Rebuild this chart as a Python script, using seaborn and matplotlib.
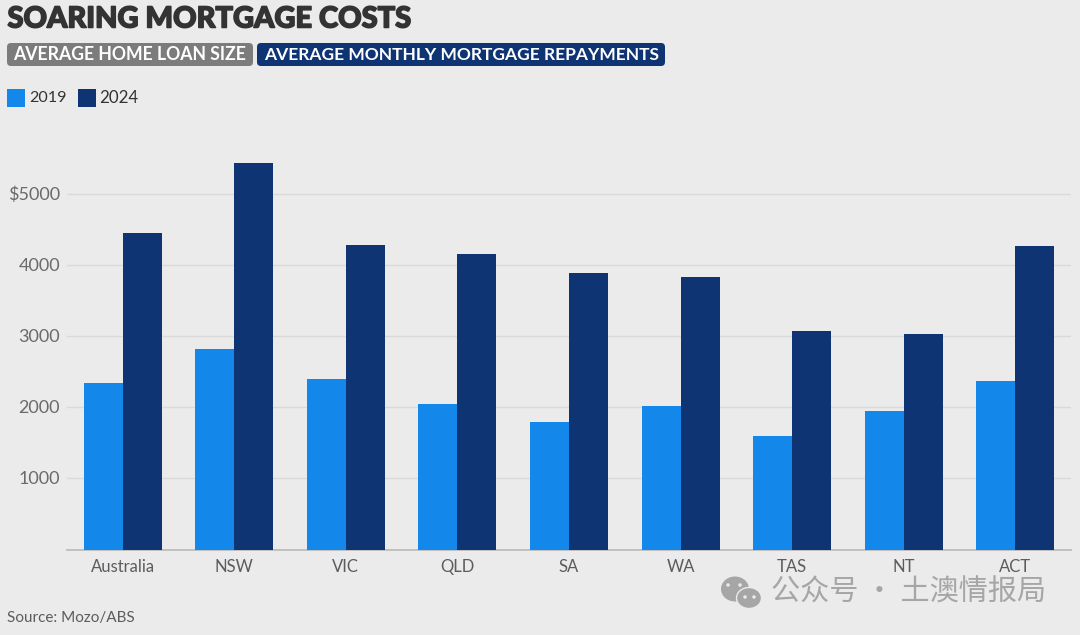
import pandas as pd
import numpy as np
import matplotlib.pyplot as plt
import seaborn as sns
import matplotlib.patheffects as pe
from matplotlib.patches import FancyBboxPatch, Rectangle, Ellipse

regions = ['Australia', 'NSW', 'VIC', 'QLD', 'SA', 'WA', 'TAS', 'NT', 'ACT']
repay_2019 = [2335, 2815, 2395, 2040, 1790, 2025, 1590, 1945, 2365]
repay_2024 = [4445, 5430, 4278, 4150, 3882, 3826, 3078, 3025, 4262]
y_ticks = [1000, 2000, 3000, 4000, 5000]
y_labels = ['1000', '2000', '3000', '4000', '$5000']

BG = '#ebebeb'
LIGHT = '#1488ea'
DARK = '#0e3474'
W, H = 1080, 635

df = pd.DataFrame({
    'Region': regions * 2,
    'Repayment': repay_2019 + repay_2024,
    'Year': ['2019'] * 9 + ['2024'] * 9,
})

sns.set_theme(style='white')
plt.rcParams['font.family'] = ['Lato', 'Noto Sans CJK SC', 'DejaVu Sans']

fig = plt.figure(figsize=(W / 100, H / 100), dpi=100, facecolor=BG)
ax = fig.add_axes([67 / W, 1 - 549.5 / H, 1004 / W, 400 / H], facecolor=BG)

sns.barplot(data=df, x='Region', y='Repayment', hue='Year',
            palette={'2019': LIGHT, '2024': DARK}, width=0.7, gap=0,
            saturation=1, legend=False, linewidth=0, ax=ax, zorder=3)

ax.set_xlim(-0.5, 8.5)
ax.set_ylim(0, 400 / 0.0711)
ax.set_xlabel('')
ax.set_ylabel('')
ax.set_yticks(y_ticks)
ax.set_yticklabels([])
ax.grid(axis='y', color='#dadada', linewidth=1, zorder=0)
ax.set_axisbelow(True)
sns.despine(ax=ax, left=True)
ax.spines['bottom'].set_color('#bdbdbd')
ax.spines['bottom'].set_linewidth(1.3)
ax.tick_params(axis='x', length=0, pad=6.5, labelsize=12, labelcolor='#5c5c5c')
ax.tick_params(axis='y', length=0)

# y labels sit left of the axis start, over the margin
for val, lab in zip(y_ticks, y_labels):
    ax.annotate(lab, xy=(0, val), xycoords=('axes fraction', 'data'),
                xytext=(-5, -0.7), textcoords='offset points', ha='right', va='center',
                fontsize=13, color='#6a6a6a')

# header overlay in pixel coordinates
over = fig.add_axes([0, 0, 1, 1], facecolor='none')
over.set_xlim(0, W)
over.set_ylim(H, 0)
over.axis('off')

over.text(7.5, 19.5, 'SOARING MORTGAGE COSTS', fontsize=20.9, fontweight='black',
          color='#333333', va='center', ha='left',
          path_effects=[pe.withStroke(linewidth=1.1, foreground='#333333')])

over.add_patch(FancyBboxPatch((7, 43), 246, 23, boxstyle='round,pad=0,rounding_size=4',
                              fc='#7c7c7c', ec='none'))
over.text(13, 54.5, 'AVERAGE HOME LOAN SIZE', fontsize=12.7, fontweight='bold',
          color='white', va='center', ha='left')
over.add_patch(FancyBboxPatch((257, 43), 408, 23, boxstyle='round,pad=0,rounding_size=4',
                              fc=DARK, ec='none'))
over.text(264, 54.5, 'AVERAGE MONTHLY MORTGAGE REPAYMENTS', fontsize=12.55, fontweight='bold',
          color='white', va='center', ha='left')

over.add_patch(Rectangle((7, 89), 18, 18, fc=LIGHT, ec='none'))
over.text(29, 98, '2019', fontsize=11.6, color='#333333', va='center', ha='left')
over.add_patch(Rectangle((78, 89), 18, 18, fc=DARK, ec='none'))
over.text(99.5, 98, '2024', fontsize=12.2, color='#333333', va='center', ha='left')

over.text(7, 618, 'Source: Mozo/ABS', fontsize=11, color='#5c5c5c', va='center', ha='left')

# watermark
over.add_patch(Ellipse((735, 589), 28, 25, fc='#a6a6a6', ec='none'))
over.add_patch(Ellipse((749, 598), 25, 21, fc='#a6a6a6', ec=BG, lw=1))
for ex, ey in [(728, 585), (740, 585), (745, 597), (754, 597)]:
    over.add_patch(Ellipse((ex, ey), 3.5, 3.5, fc=BG, ec='none'))
over.text(771, 593, '公众号 · 土澳情报局', fontsize=21, color='#a6a6a6',
          va='center', ha='left', family=['Noto Sans CJK SC', 'DejaVu Sans'])

fig.savefig('out.png', dpi=100, facecolor=BG)
